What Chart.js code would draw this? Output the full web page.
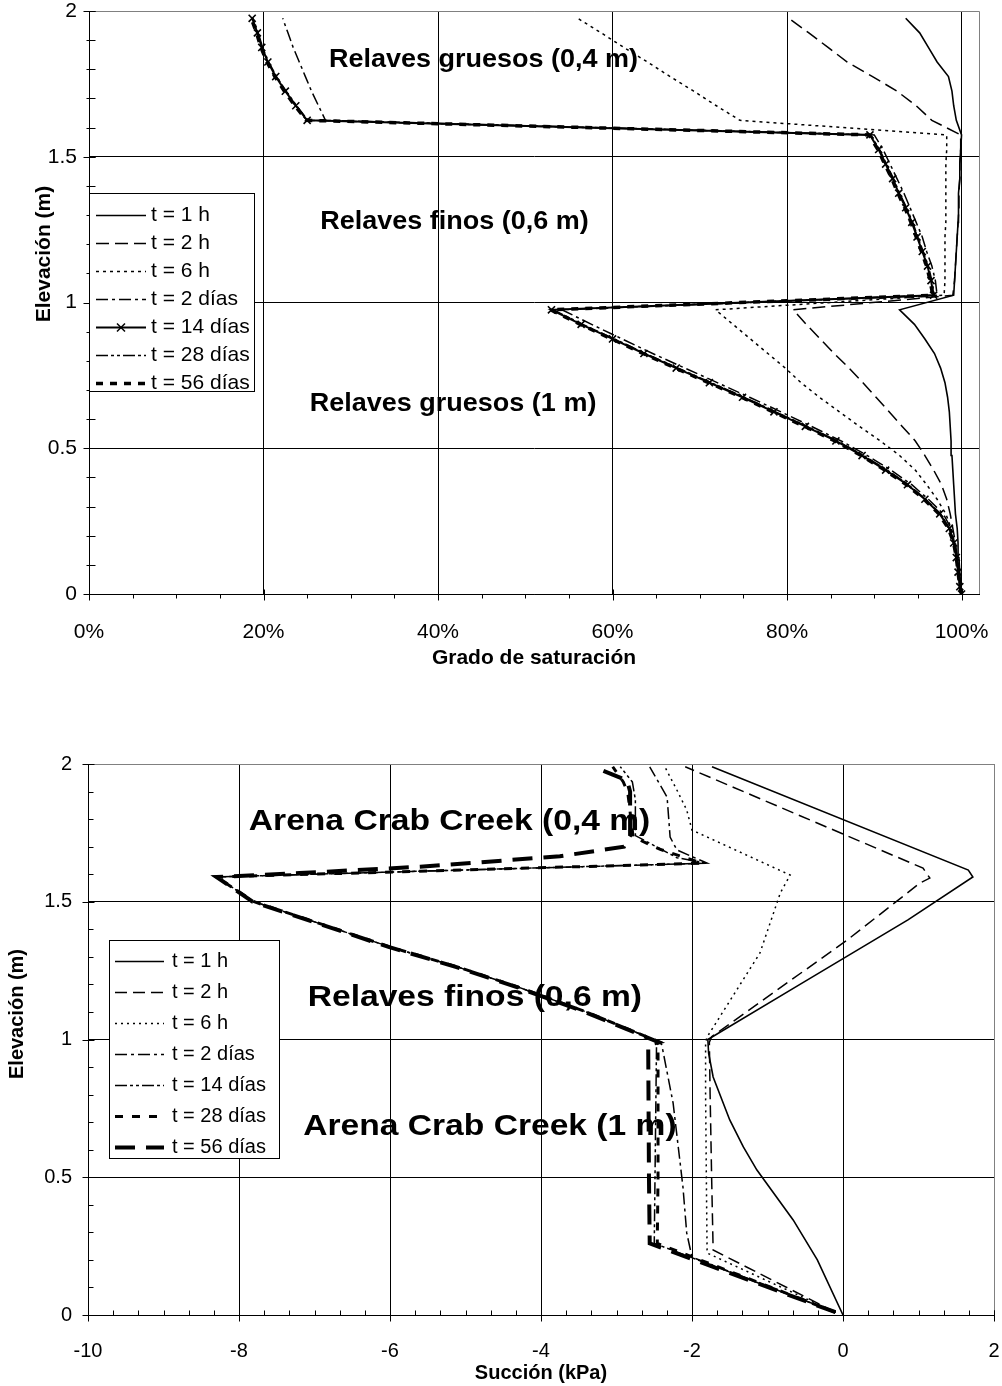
<!DOCTYPE html>
<html>
<head>
<meta charset="utf-8">
<script src="https://cdn.jsdelivr.net/npm/chart.js@4.4.1/dist/chart.umd.min.js"></script>
<style>
html,body{margin:0;padding:0;background:#fff;}
#wrap{position:relative;width:1002px;height:1386px;background:#fff;}
#c1{position:absolute;left:0;top:0;}
#c2{position:absolute;left:0;top:690px;}
</style>
</head>
<body>
<div id="wrap">
<canvas id="c1" width="1002" height="690"></canvas>
<canvas id="c2" width="1002" height="696"></canvas>
</div>
<script>
// ---------------- DATA ----------------
const seriesLabels = ['t = 1 h', 't = 2 h', 't = 6 h', 't = 2 días', 't = 14 días', 't = 28 días', 't = 56 días'];

// Chart 1 : Grado de saturación vs Elevación
const satTicksX = [0, 0.2, 0.4, 0.6, 0.8, 1.0];
const elevTicks = [0, 0.5, 1, 1.5, 2];
const satElev = [0, 0.025, 0.075, 0.125, 0.175, 0.225, 0.275, 0.325, 0.375, 0.425, 0.475, 0.525, 0.575, 0.625, 0.675, 0.725, 0.775, 0.825, 0.875, 0.925, 0.975,
  1.025, 1.075, 1.125, 1.175, 1.225, 1.275, 1.325, 1.375, 1.425, 1.475, 1.525, 1.575,
  1.625, 1.675, 1.725, 1.775, 1.825, 1.875, 1.925, 1.975];
const sat1h = [1.000, 0.999, 0.998, 0.997, 0.996, 0.995, 0.993, 0.992, 0.991, 0.990, 0.989, 0.988, 0.987, 0.986, 0.984, 0.981, 0.976, 0.969, 0.958, 0.946, 0.929,
  0.991, 0.992, 0.993, 0.994, 0.995, 0.996, 0.996, 0.997, 0.998, 0.998, 0.999, 1.000,
  0.994, 0.991, 0.989, 0.985, 0.972, 0.962, 0.952, 0.936];
const sat2h = [1.000, 0.999, 0.997, 0.995, 0.993, 0.990, 0.987, 0.983, 0.977, 0.968, 0.958, 0.947, 0.932, 0.917, 0.902, 0.887, 0.871, 0.854, 0.838, 0.822, 0.807,
  0.990, 0.992, 0.993, 0.994, 0.995, 0.996, 0.997, 0.997, 0.998, 0.998, 0.999, 0.999,
  0.966, 0.948, 0.926, 0.898, 0.869, 0.847, 0.825, 0.802];
const sat6h = [1.000, 0.999, 0.997, 0.995, 0.992, 0.988, 0.982, 0.972, 0.960, 0.947, 0.929, 0.907, 0.883, 0.860, 0.837, 0.816, 0.798, 0.778, 0.758, 0.738, 0.718,
  0.980, 0.981, 0.981, 0.981, 0.981, 0.982, 0.982, 0.982, 0.982, 0.982, 0.983, 0.983,
  0.746, 0.719, 0.693, 0.666, 0.640, 0.613, 0.587, 0.560];
const sat2d = [1.000, 0.998, 0.997, 0.995, 0.992, 0.988, 0.979, 0.962, 0.943, 0.919, 0.892, 0.862, 0.828, 0.793, 0.757, 0.720, 0.683, 0.646, 0.611, 0.576, 0.542,
  0.972, 0.970, 0.966, 0.960, 0.955, 0.948, 0.941, 0.934, 0.926, 0.918, 0.910, 0.900,
  0.271, 0.263, 0.255, 0.248, 0.241, 0.234, 0.228, 0.222];
const sat14d = [1.000, 0.998, 0.996, 0.994, 0.991, 0.986, 0.975, 0.958, 0.938, 0.913, 0.886, 0.856, 0.821, 0.785, 0.749, 0.711, 0.673, 0.636, 0.600, 0.564, 0.530,
  0.968, 0.965, 0.961, 0.955, 0.949, 0.943, 0.936, 0.928, 0.921, 0.913, 0.905, 0.895,
  0.250, 0.237, 0.225, 0.214, 0.205, 0.198, 0.193, 0.187];
const sat28d = [1.000, 0.998, 0.996, 0.994, 0.991, 0.986, 0.976, 0.959, 0.939, 0.915, 0.888, 0.858, 0.823, 0.787, 0.751, 0.713, 0.675, 0.638, 0.602, 0.566, 0.532,
  0.969, 0.966, 0.962, 0.956, 0.950, 0.944, 0.937, 0.929, 0.922, 0.914, 0.906, 0.896,
  0.251, 0.238, 0.226, 0.215, 0.206, 0.199, 0.194, 0.188];
const sat56d = [1.000, 0.998, 0.996, 0.994, 0.991, 0.985, 0.974, 0.957, 0.937, 0.912, 0.885, 0.855, 0.820, 0.784, 0.748, 0.710, 0.672, 0.635, 0.599, 0.563, 0.529,
  0.967, 0.964, 0.960, 0.954, 0.948, 0.942, 0.935, 0.927, 0.920, 0.912, 0.904, 0.894,
  0.249, 0.236, 0.224, 0.213, 0.204, 0.197, 0.192, 0.186];

// Chart 2 : Succión vs Elevación
const sucTicksX = [-10, -8, -6, -4, -2, 0, 2];
const suc1hElev = [0, 0.2, 0.345, 0.526, 0.61, 0.708, 0.864, 0.95, 1.0, 1.2, 1.434, 1.59, 1.615, 1.99];
const suc1h     = [0, -0.34, -0.66, -1.14, -1.32, -1.50, -1.72, -1.78, -1.79, -0.57, 0.86, 1.72, 1.66, -1.735];
const suc2hElev = [0.01, 0.236, 0.5, 0.8, 0.99, 1.01, 1.36, 1.568, 1.586, 1.622, 1.99];
const suc2h     = [-0.1, -1.72, -1.74, -1.76, -1.77, -1.74, 0.05, 1.02, 1.15, 1.06, -2.09];
const suc6hElev = [0.01, 0.225, 0.5, 0.8, 0.99, 1.009, 1.314, 1.532, 1.597, 1.76, 1.833, 1.90, 1.99];
const suc6h     = [-0.1, -1.80, -1.81, -1.82, -1.82, -1.80, -1.10, -0.83, -0.70, -2.0, -2.07, -2.19, -2.36];
const suc2dElev = [0.01, 0.21, 0.298, 0.465, 0.769, 0.98, 0.99, 1.1, 1.19, 1.263, 1.336, 1.5, 1.59, 1.64, 1.688, 1.735, 1.88, 1.99];
const suc2d     = [-0.1, -2.0, -2.07, -2.12, -2.25, -2.40, -2.42, -3.4, -4.3, -5.1, -6.0, -7.8, -8.3, -1.8, -2.2, -2.29, -2.33, -2.56];
const suc14dElev = [0.01, 0.26, 0.5, 0.98, 0.99, 1.1, 1.19, 1.263, 1.336, 1.5, 1.59, 1.64, 1.66, 1.74, 1.87, 1.935, 1.99];
const suc14d     = [-0.1, -2.50, -2.49, -2.47, -2.42, -3.4, -4.3, -5.1, -6.0, -7.8, -8.3, -1.8, -2.2, -2.75, -2.75, -2.79, -2.95];
const suc28dElev = [0.01, 0.26, 0.5, 0.98, 0.99, 1.1, 1.19, 1.263, 1.336, 1.5, 1.59, 1.64, 1.69, 1.735, 1.895, 1.935, 1.99];
const suc28d     = [-0.1, -2.46, -2.45, -2.45, -2.42, -3.4, -4.3, -5.1, -6.0, -7.8, -8.3, -1.87, -2.42, -2.78, -2.85, -2.91, -3.05];
const suc56dElev = [0.01, 0.26, 0.5, 0.98, 0.99, 1.1, 1.19, 1.263, 1.336, 1.5, 1.59, 1.604, 1.627, 1.665, 1.70, 1.74, 1.90, 1.94, 1.985];
const suc56d     = [-0.1, -2.56, -2.57, -2.58, -2.44, -3.42, -4.32, -5.12, -6.02, -7.82, -8.3, -7.2, -5.6, -3.75, -2.9, -2.82, -2.82, -2.86, -3.26];

// Region labels
const satRegionLabels = ['Relaves gruesos (0,4 m)', 'Relaves finos (0,6 m)', 'Relaves gruesos (1 m)'];
const sucRegionLabels = ['Arena Crab Creek (0,4 m)', 'Relaves finos (0,6 m)', 'Arena Crab Creek (1 m)'];

// ---------------- HELPERS ----------------
const FONT = 'Arial, "Liberation Sans", sans-serif';
function pts(xs, ys) { return xs.map((x, i) => ({x: x, y: ys[i]})); }

function makeSets(list, styles) {
  return list.map((d, i) => Object.assign({
    label: seriesLabels[i],
    data: d,
    showLine: true,
    borderColor: '#000',
    backgroundColor: '#000',
    pointRadius: 0,
    pointHoverRadius: 0,
    fill: false,
    tension: 0
  }, styles[i]));
}

function decor(cfg) {
  return {
    id: 'decor_' + cfg.name,
    beforeDatasetsDraw(chart) {
      const {ctx, chartArea: a} = chart;
      ctx.save();
      ctx.strokeStyle = '#808080';
      ctx.lineWidth = 1;
      ctx.beginPath();
      ctx.moveTo(a.left, a.top + 0.5); ctx.lineTo(a.right + 0.5, a.top + 0.5);
      ctx.lineTo(a.right + 0.5, a.bottom);
      ctx.stroke();
      // ticks
      ctx.strokeStyle = '#000';
      const xs = chart.scales.x, ys = chart.scales.y;
      const xb = Math.round(a.bottom) + 0.5, yl = Math.round(a.left) + 0.5;
      ctx.beginPath();
      cfg.majorX.forEach(v => { const p = Math.round(xs.getPixelForValue(v)) + 0.5; ctx.moveTo(p, xb - 5); ctx.lineTo(p, xb + 6); });
      cfg.majorY.forEach(v => { const p = Math.round(ys.getPixelForValue(v)) + 0.5; ctx.moveTo(yl - 6, p); ctx.lineTo(yl + 6, p); });
      for (let k = 0; ; k++) {
        const v = cfg.minorX.from + k * cfg.minorX.step;
        if (v > cfg.minorX.to + 1e-9) break;
        const p = Math.round(xs.getPixelForValue(v)) + 0.5;
        ctx.moveTo(p, xb - cfg.minorX.inn); ctx.lineTo(p, xb + cfg.minorX.out);
      }
      for (let k = 0; ; k++) {
        const v = cfg.minorY.from + k * cfg.minorY.step;
        if (v > cfg.minorY.to + 1e-9) break;
        const p = Math.round(ys.getPixelForValue(v)) + 0.5;
        ctx.moveTo(yl - cfg.minorY.out, p); ctx.lineTo(yl + cfg.minorY.inn, p);
      }
      ctx.stroke();
      ctx.restore();
    },
    afterDatasetsDraw(chart) {
      const {ctx, chartArea: a} = chart;
      const xs = chart.scales.x, ys = chart.scales.y;
      ctx.save();
      // region labels
      ctx.fillStyle = '#000';
      ctx.textAlign = 'left';
      ctx.textBaseline = 'middle';
      ctx.font = 'bold ' + cfg.annSize + 'px ' + FONT;
      cfg.ann.forEach((t, i) => {
        const px = xs.getPixelForValue(cfg.annPos[i][0]);
        const py = ys.getPixelForValue(cfg.annPos[i][1]);
        ctx.save();
        ctx.translate(px, py);
        ctx.scale(cfg.annScale, 1);
        ctx.fillText(t, 0, 0);
        ctx.restore();
      });
      // legend
      const L = cfg.legend;
      const bx = a.left + L.dx, by = a.top + L.dy;
      ctx.fillStyle = '#fff';
      ctx.fillRect(bx, by, L.w, L.h);
      ctx.strokeStyle = '#000';
      ctx.lineWidth = 1;
      ctx.strokeRect(Math.round(bx) + 0.5, Math.round(by) + 0.5, L.w, L.h);
      ctx.font = L.size + 'px ' + FONT;
      ctx.fillStyle = '#000';
      ctx.textBaseline = 'middle';
      chart.data.datasets.forEach((ds, i) => {
        const y = Math.round(by + L.first + i * L.gap) + 0.5;
        ctx.save();
        ctx.strokeStyle = '#000';
        ctx.lineWidth = ds.borderWidth;
        ctx.setLineDash(ds.borderDash || []);
        ctx.beginPath();
        ctx.moveTo(bx + L.s0, y); ctx.lineTo(bx + L.s1, y);
        ctx.stroke();
        if (ds.pointStyle === 'crossRot') {
          ctx.setLineDash([]);
          ctx.lineWidth = 1.5;
          const cx = bx + (L.s0 + L.s1) / 2, r = 4;
          ctx.beginPath();
          ctx.moveTo(cx - r, y - r); ctx.lineTo(cx + r, y + r);
          ctx.moveTo(cx - r, y + r); ctx.lineTo(cx + r, y - r);
          ctx.stroke();
        }
        ctx.restore();
        ctx.fillText(ds.label, bx + L.tx, y);
      });
      // y title
      ctx.save();
      ctx.font = 'bold ' + cfg.yTitle.size + 'px ' + FONT;
      ctx.textAlign = 'center';
      ctx.textBaseline = 'middle';
      ctx.translate(cfg.yTitle.x, cfg.yTitle.y);
      ctx.rotate(-Math.PI / 2);
      ctx.fillText(cfg.yTitle.text, 0, 0);
      ctx.restore();
      ctx.restore();
    }
  };
}

function fmtElev(v) { return String(v); }

// ---------------- CHART 1 ----------------
const styles1 = [
  {borderWidth: 1.6, borderDash: []},
  {borderWidth: 1.5, borderDash: [13, 6]},
  {borderWidth: 1.5, borderDash: [3, 4]},
  {borderWidth: 1.5, borderDash: [12, 4, 3, 4]},
  {borderWidth: 2, borderDash: [], pointStyle: 'crossRot', pointRadius: 5, pointBorderWidth: 1.6, pointHoverRadius: 5},
  {borderWidth: 1.5, borderDash: [12, 3, 3, 3, 3, 3]},
  {borderWidth: 3.5, borderDash: [7, 7]}
];
const data1 = [pts(sat1h, satElev), pts(sat2h, satElev), pts(sat6h, satElev), pts(sat2d, satElev), pts(sat14d, satElev), pts(sat28d, satElev), pts(sat56d, satElev)];

new Chart(document.getElementById('c1'), {
  type: 'scatter',
  data: {datasets: makeSets(data1, styles1)},
  options: {
    responsive: false, animation: false, devicePixelRatio: 1,
    layout: {padding: {left: 0, top: 11, right: 23, bottom: 0}},
    plugins: {legend: {display: false}, tooltip: {enabled: false}},
    scales: {
      x: {
        type: 'linear', position: 'bottom', min: 0, max: 1.02,
        afterBuildTicks: s => { s.ticks = satTicksX.map(v => ({value: v})); },
        afterFit: s => { s.height = 96; s.paddingLeft = 0; s.paddingRight = 0; },
        ticks: {callback: v => Math.round(v * 100) + '%', font: {family: FONT, size: 21}, color: '#000', padding: 26, maxRotation: 0, autoSkip: false},
        grid: {color: '#000', lineWidth: 1, drawTicks: false},
        border: {color: '#000', width: 1},
        title: {display: true, text: 'Grado de saturación', font: {family: FONT, size: 21, weight: 'bold'}, color: '#000', padding: {top: 0, bottom: 19}}
      },
      y: {
        type: 'linear', min: 0, max: 2,
        afterBuildTicks: s => { s.ticks = elevTicks.map(v => ({value: v})); },
        afterFit: s => { s.width = 89; s.paddingTop = 0; s.paddingBottom = 0; },
        ticks: {callback: fmtElev, font: {family: FONT, size: 21}, color: '#000', padding: 12, autoSkip: false},
        grid: {color: c => (c.tick && c.tick.value === 2) ? '#808080' : '#000', lineWidth: 1, drawTicks: false},
        border: {color: '#000', width: 1},
        title: {display: false}
      }
    }
  },
  plugins: [decor({
    name: 'sat',
    majorX: satTicksX, majorY: elevTicks,
    minorX: {from: 0, to: 1.0, step: 0.05, inn: 0, out: 4},
    minorY: {from: 0, to: 2, step: 0.1, inn: 6, out: 3},
    ann: satRegionLabels, annPos: [[0.275, 1.83], [0.265, 1.276], [0.253, 0.652]], annSize: 25, annScale: 1.08,
    legend: {dx: 0, dy: 182, w: 165, h: 198, first: 22, gap: 28, s0: 7, s1: 57, tx: 62, size: 21},
    yTitle: {text: 'Elevación (m)', x: 44, y: 254, size: 21}
  })]
});

// ---------------- CHART 2 ----------------
const styles2 = [
  {borderWidth: 1.6, borderDash: []},
  {borderWidth: 1.5, borderDash: [12, 6]},
  {borderWidth: 1.5, borderDash: [2, 4]},
  {borderWidth: 1.5, borderDash: [12, 4, 3, 4]},
  {borderWidth: 1.5, borderDash: [12, 3, 3, 3, 3, 3]},
  {borderWidth: 3, borderDash: [8, 9]},
  {borderWidth: 4, borderDash: [20, 11]}
];
const data2 = [pts(suc1h, suc1hElev), pts(suc2h, suc2hElev), pts(suc6h, suc6hElev), pts(suc2d, suc2dElev), pts(suc14d, suc14dElev), pts(suc28d, suc28dElev), pts(suc56d, suc56dElev)];

new Chart(document.getElementById('c2'), {
  type: 'scatter',
  data: {datasets: makeSets(data2, styles2)},
  options: {
    responsive: false, animation: false, devicePixelRatio: 1,
    layout: {padding: {left: 0, top: 74, right: 8, bottom: 0}},
    plugins: {legend: {display: false}, tooltip: {enabled: false}},
    scales: {
      x: {
        type: 'linear', position: 'bottom', min: -10, max: 2,
        afterBuildTicks: s => { s.ticks = sucTicksX.map(v => ({value: v})); },
        afterFit: s => { s.height = 71; s.paddingLeft = 0; s.paddingRight = 0; },
        ticks: {callback: v => String(v), font: {family: FONT, size: 20}, color: '#000', padding: 24, maxRotation: 0, autoSkip: false},
        grid: {color: c => (c.tick && c.tick.value === 2) ? '#808080' : '#000', lineWidth: 1, drawTicks: false},
        border: {color: '#000', width: 1},
        title: {display: true, text: 'Succión (kPa)', font: {family: FONT, size: 20, weight: 'bold'}, color: '#000', padding: {top: 0, bottom: 1}}
      },
      y: {
        type: 'linear', min: 0, max: 2,
        afterBuildTicks: s => { s.ticks = elevTicks.map(v => ({value: v})); },
        afterFit: s => { s.width = 88; s.paddingTop = 0; s.paddingBottom = 0; },
        ticks: {callback: fmtElev, font: {family: FONT, size: 20}, color: '#000', padding: 16, autoSkip: false},
        grid: {color: c => (c.tick && c.tick.value === 2) ? '#808080' : '#000', lineWidth: 1, drawTicks: false},
        border: {color: '#000', width: 1},
        title: {display: false}
      }
    }
  },
  plugins: [decor({
    name: 'suc',
    majorX: sucTicksX, majorY: elevTicks,
    minorX: {from: -10, to: 2, step: 1 / 3, inn: 5, out: 0},
    minorY: {from: 0, to: 2, step: 0.1, inn: 5, out: 0},
    ann: sucRegionLabels, annPos: [[-7.87, 1.79], [-7.09, 1.151], [-7.15, 0.682]], annSize: 30, annScale: 1.12,
    legend: {dx: 21, dy: 176, w: 170, h: 218, first: 21, gap: 31, s0: 6, s1: 55, tx: 63, size: 20},
    yTitle: {text: 'Elevación (m)', x: 17, y: 324, size: 20}
  })]
});
</script>
</body>
</html>
